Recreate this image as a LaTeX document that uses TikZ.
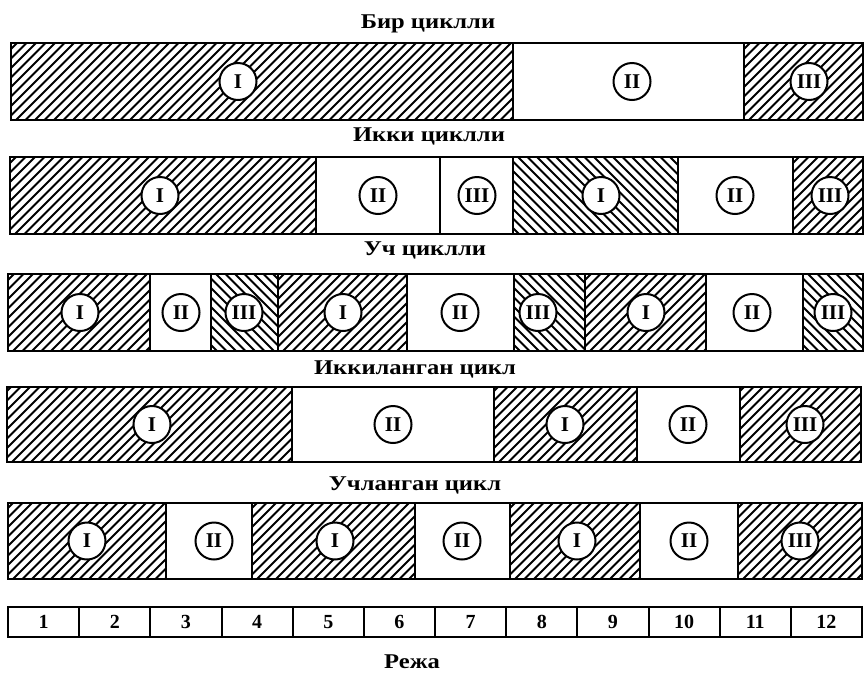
\documentclass[tikz,border=0pt]{standalone}
\usepackage{fontspec}
\setmainfont{Liberation Serif}
\newfontfamily\headfont[FakeStretch=1.17]{Liberation Serif}

% hatched segment, lines like "/" : x1, x2, top, bottom
\newcommand{\hatchne}[4]{%
  \begin{scope}
    \clip (#1,#3) rectangle (#2,#4);
    \foreach \k in {0,9.5,...,600}
      \draw[hatchline] (#1-90+\k,#4) -- ++(90,-90);
  \end{scope}
  \draw[bar] (#1,#3) rectangle (#2,#4);}
% hatched segment, lines like "\" : x1, x2, top, bottom
\newcommand{\hatchnw}[4]{%
  \begin{scope}
    \clip (#1,#3) rectangle (#2,#4);
    \foreach \k in {0,9.5,...,600}
      \draw[hatchline] (#1-90+\k,#3) -- ++(90,90);
  \end{scope}
  \draw[bar] (#1,#3) rectangle (#2,#4);}
% empty segment
\newcommand{\plainseg}[4]{\draw[bar] (#1,#3) rectangle (#2,#4);}

\tikzset{
  bar/.style={line width=2.4pt},
  hatchline/.style={line width=1.8pt},
  stage/.style={circle, draw, line width=2pt, fill=white, minimum size=37pt,
    inner sep=0pt, font=\bfseries\fontsize{21}{21}\selectfont},
  title/.style={anchor=base, font=\headfont\bfseries\fontsize{21}{21}\selectfont},
  cell/.style={draw, line width=2pt, minimum width=71.17pt, minimum height=30pt,
    inner sep=0pt, font=\bfseries\fontsize{20}{20}\selectfont},
}

\begin{document}
\begin{tikzpicture}[x=1pt, y=-1pt]

    \useasboundingbox (0,0) rectangle (865,673);

    % Row 1
    \node[title] (t1) at (428,28) {Бир циклли};
    \hatchne{11}{513}{43}{120}
    \plainseg{513}{744}{43}{120}
    \hatchne{744}{863}{43}{120}
    \node[stage] (a1) at (238,81.5) {I};
    \node[stage] (a2) at (632,81.5) {II};
    \node[stage] (a3) at (809,81.5) {III};

    % Row 2
    \node[title] (t2) at (429,141) {Икки циклли};
    \hatchne{10}{316}{157}{234}
    \plainseg{316}{440}{157}{234}
    \plainseg{440}{513}{157}{234}
    \hatchnw{513}{678}{157}{234}
    \plainseg{678}{793}{157}{234}
    \hatchne{793}{863}{157}{234}
    \node[stage] (b1) at (160,195.5) {I};
    \node[stage] (b2) at (378,195.5) {II};
    \node[stage] (b3) at (477,195.5) {III};
    \node[stage] (b4) at (601,195.5) {I};
    \node[stage] (b5) at (735,195.5) {II};
    \node[stage] (b6) at (830,195.5) {III};

    % Row 3
    \node[title] (t3) at (425,255) {Уч циклли};
    \hatchne{8}{150}{274}{351}
    \plainseg{150}{211}{274}{351}
    \hatchnw{211}{278}{274}{351}
    \hatchne{278}{407}{274}{351}
    \plainseg{407}{514}{274}{351}
    \hatchnw{514}{585}{274}{351}
    \hatchne{585}{706}{274}{351}
    \plainseg{706}{803}{274}{351}
    \hatchnw{803}{863}{274}{351}
    \node[stage] (c1) at (80,312.5) {I};
    \node[stage] (c2) at (181,312.5) {II};
    \node[stage] (c3) at (244,312.5) {III};
    \node[stage] (c4) at (343,312.5) {I};
    \node[stage] (c5) at (460,312.5) {II};
    \node[stage] (c6) at (538,312.5) {III};
    \node[stage] (c7) at (646,312.5) {I};
    \node[stage] (c8) at (752,312.5) {II};
    \node[stage] (c9) at (833,312.5) {III};

    % Row 4
    \node[title] (t4) at (415,374) {Иккиланган цикл};
    \hatchne{7}{292}{387}{462}
    \plainseg{292}{494}{387}{462}
    \hatchne{494}{637}{387}{462}
    \plainseg{637}{740}{387}{462}
    \hatchne{740}{861}{387}{462}
    \node[stage] (d1) at (152,424.5) {I};
    \node[stage] (d2) at (393,424.5) {II};
    \node[stage] (d3) at (565,424.5) {I};
    \node[stage] (d4) at (688,424.5) {II};
    \node[stage] (d5) at (805,424.5) {III};

    % Row 5
    \node[title] (t5) at (415,490) {Учланган цикл};
    \hatchne{8}{166}{503}{579}
    \plainseg{166}{252}{503}{579}
    \hatchne{252}{415}{503}{579}
    \plainseg{415}{510}{503}{579}
    \hatchne{510}{640}{503}{579}
    \plainseg{640}{738}{503}{579}
    \hatchne{738}{862}{503}{579}
    \node[stage] (e1) at (87,541) {I};
    \node[stage] (e2) at (214,541) {II};
    \node[stage] (e3) at (335,541) {I};
    \node[stage] (e4) at (462,541) {II};
    \node[stage] (e5) at (577,541) {I};
    \node[stage] (e6) at (689,541) {II};
    \node[stage] (e7) at (800,541) {III};

    % Time scale
    \foreach \i in {1,...,12}
      \node[cell] (s\i) at ({8+71.17*(\i-0.5)},622) {\i};
    \node[title] (plan) at (412,668) {Режа};

\end{tikzpicture}
\end{document}
